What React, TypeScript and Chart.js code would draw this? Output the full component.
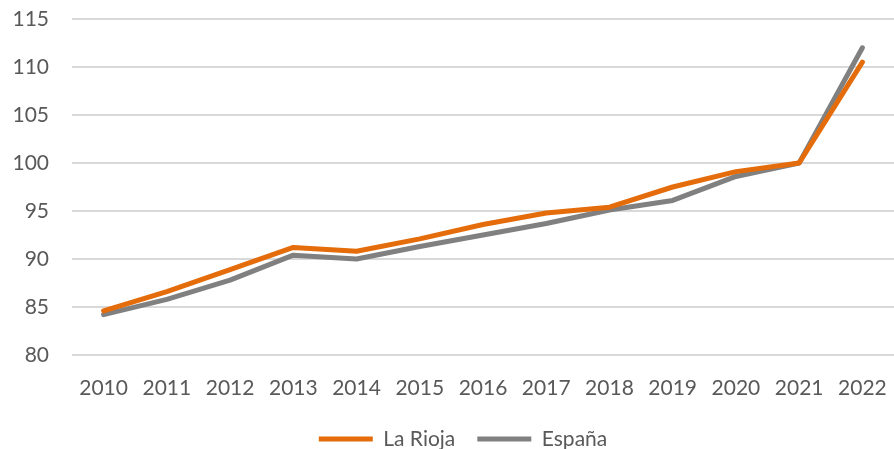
import React, { useEffect, useRef } from "react";
import { Chart, registerables } from "chart.js";

Chart.register(...registerables);

const years = ["2010", "2011", "2012", "2013", "2014", "2015", "2016", "2017", "2018", "2019", "2020", "2021", "2022"];
const laRioja = [84.6, 86.6, 88.9, 91.2, 90.8, 92.1, 93.6, 94.8, 95.4, 97.5, 99.1, 100.0, 110.5];
const espana = [84.2, 85.8, 87.8, 90.4, 90.0, 91.3, 92.5, 93.7, 95.1, 96.1, 98.6, 100.0, 112.0];

const FONT = "Lato, 'Noto Sans', sans-serif";
const TEXT = "#595959";
const FS = 21;

const legendShift = {
  id: "legendShift",
  afterLayout(chart: any) {
    const lg = chart.legend;
    if (lg) {
      lg.left += 16;
      lg.right += 16;
    }
  },
};

export default function App() {
  const ref = useRef<HTMLCanvasElement | null>(null);

  useEffect(() => {
    document.body.style.margin = "0";
    const chart = new Chart(ref.current as HTMLCanvasElement, {
      type: "line",
      data: {
        labels: years,
        datasets: [
          {
            label: "La Rioja",
            data: laRioja,
            borderColor: "#E46C0A",
            backgroundColor: "#E46C0A",
            borderWidth: 5,
            pointRadius: 0,
            tension: 0,
            borderCapStyle: "round",
            borderJoinStyle: "round",
          },
          {
            label: "España",
            data: espana,
            borderColor: "#808080",
            backgroundColor: "#808080",
            borderWidth: 5,
            pointRadius: 0,
            tension: 0,
            borderCapStyle: "round",
            borderJoinStyle: "round",
          },
        ],
      },
      plugins: [legendShift],
      options: {
        animation: false,
        responsive: true,
        maintainAspectRatio: false,
        layout: { padding: { top: 19, right: 0, left: 0, bottom: -10.5 } },
        plugins: {
          tooltip: { enabled: false },
          legend: {
            position: "bottom",
            labels: {
              usePointStyle: true,
              pointStyle: "line",
              pointStyleWidth: 54,
              boxHeight: 5,
              color: TEXT,
              font: { family: FONT, size: FS },
              padding: 22,
            },
          },
        },
        scales: {
          x: {
            offset: true,
            afterFit: (s: any) => { s.height = 51.5; },
            grid: { display: true, drawOnChartArea: false, drawTicks: true, tickLength: 20, tickColor: "rgba(0,0,0,0)" },
            border: { display: false },
            ticks: { color: TEXT, font: { family: FONT, size: FS }, padding: 0.4, maxRotation: 0, autoSkip: false },
          },
          y: {
            min: 80,
            max: 115,
            afterFit: (s: any) => { s.width = 72; },
            grid: { color: "#D9D9D9", lineWidth: 2, drawTicks: true, tickLength: 20, tickColor: "rgba(0,0,0,0)" },
            border: { display: false },
            ticks: { stepSize: 5, color: TEXT, font: { family: FONT, size: FS }, padding: 3 },
          },
        },
      },
    });
    return () => chart.destroy();
  }, []);

  return (
    <div style={{ position: "absolute", left: 0, top: 0, width: 894, height: 449 }}>
      <canvas ref={ref} />
    </div>
  );
}
